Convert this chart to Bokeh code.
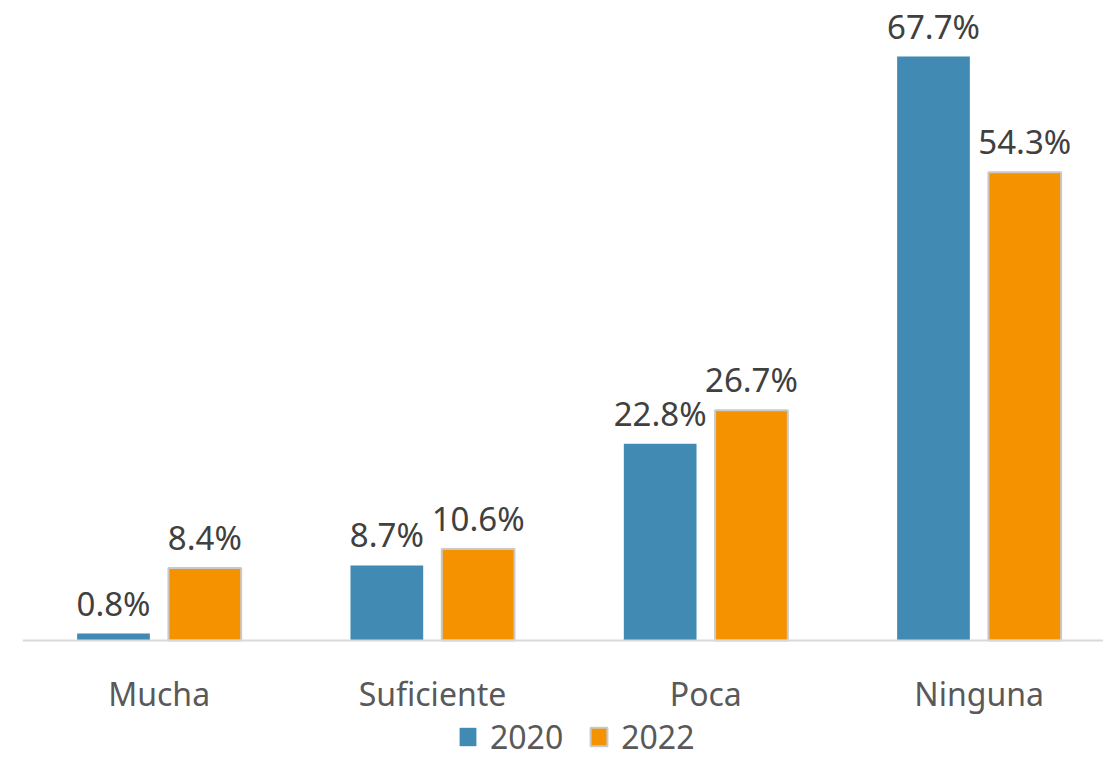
from bokeh.plotting import figure
from bokeh.models import ColumnDataSource, LabelSet, Legend, LegendItem, Range1d, Span
from bokeh.core.properties import value
from bokeh.embed import file_html
from bokeh.resources import INLINE

categories = ["Mucha", "Suficiente", "Poca", "Ninguna"]
values_2020 = [0.8, 8.7, 22.8, 67.7]
values_2022 = [8.4, 10.6, 26.7, 54.3]
series_names = ["2020", "2022"]

BLUE = "#408ab4"
ORANGE = "#f59200"
FONT = "Noto Sans"
OFF = 0.167
BAR_W = 0.266

centers = [i + 0.5 for i in range(len(categories))]
src = ColumnDataSource(dict(
    x20=[c - OFF for c in centers],
    x22=[c + OFF for c in centers],
    v20=values_2020,
    v22=values_2022,
    l20=[f"{v:.1f}%" for v in values_2020],
    l22=[f"{v:.1f}%" for v in values_2022],
))
cat_src = ColumnDataSource(dict(x=centers, y=[0] * len(categories), name=categories))

p = figure(x_range=Range1d(0, 3.955), y_range=Range1d(-13.68, 74.2),
           width=1103, height=758, frame_width=1081, frame_height=758,
           output_backend="svg", toolbar_location=None,
           min_border_left=22, min_border_right=0, min_border_top=0, min_border_bottom=0)

r1 = p.vbar(x="x20", top="v20", width=BAR_W, bottom=0,
            source=src, fill_color=BLUE, line_color=None)
r2 = p.vbar(x="x22", top="v22", width=BAR_W, bottom=0,
            source=src, fill_color=ORANGE, line_color="#c9c9c9", line_width=2)

for xc, col, lab in [("x20", "v20", "l20"), ("x22", "v22", "l22")]:
    ls = LabelSet(x=xc, y=col, text=lab, source=src,
                  text_align="center", text_baseline="alphabetic", y_offset=18,
                  text_font=value(FONT), text_font_size="33px", text_color="#404040")
    p.add_layout(ls)

# category axis: baseline and category names
p.add_layout(Span(location=0, dimension="width", line_color="#d9d9d9", line_width=2))
p.add_layout(LabelSet(x="x", y="y", text="name", source=cat_src,
                      text_align="center", text_baseline="middle", y_offset=-53,
                      text_font=value(FONT), text_font_size="32px", text_color="#595959"))

p.xaxis.visible = False
p.yaxis.visible = False
p.xgrid.grid_line_color = None
p.ygrid.grid_line_color = None
p.outline_line_color = None

legend = Legend(items=[LegendItem(label=series_names[0], renderers=[r1]),
                       LegendItem(label=series_names[1], renderers=[r2])],
                orientation="horizontal", location=(435, 0),
                label_text_font=FONT, label_text_font_size="32px", label_text_color="#595959",
                glyph_width=21, glyph_height=23, spacing=25, label_standoff=12, label_height=23,
                border_line_color=None, background_fill_alpha=0, padding=0, margin=0)
p.add_layout(legend, "center")

open("out.html", "w").write(file_html(p, INLINE))
